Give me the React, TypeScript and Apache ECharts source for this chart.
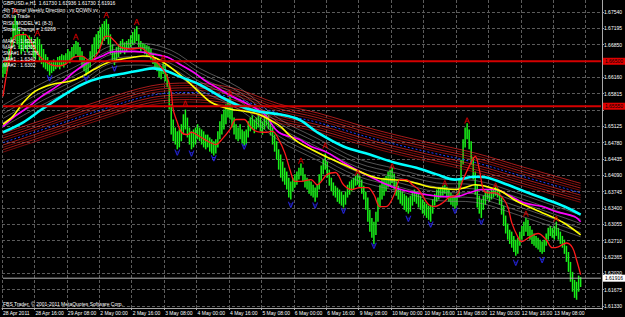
import React, { useEffect, useRef } from "react";
import * as echarts from "echarts";

// ---------- axis scaffolding ----------
const BAR_SLOTS = 296;
const xTickLabels = [
  "28 Apr 2011", "28 Apr 16:00", "29 Apr 08:00", "2 May 00:00", "2 May 16:00", "3 May 08:00",
  "4 May 00:00", "4 May 16:00", "5 May 08:00", "6 May 00:00", "6 May 16:00", "9 May 08:00",
  "10 May 00:00", "10 May 16:00", "11 May 08:00", "12 May 00:00", "12 May 16:00", "13 May 08:00",
];
const yTickValues = [1.6133, 1.61675, 1.6202, 1.62365, 1.6271, 1.63055, 1.634, 1.63745, 1.6409, 1.64435, 1.6478, 1.65125, 1.6547, 1.65815, 1.6616, 1.66505, 1.6685, 1.67195, 1.6754];
const yLabelValues = [1.6133, 1.61675, 1.6202, 1.62365, 1.6271, 1.63055, 1.634, 1.63745, 1.6409, 1.64435, 1.6478, 1.65125, 1.65815, 1.6616, 1.6685, 1.67195, 1.6754];
const Y_MIN = 1.61286;
const Y_MAX = 1.67795;

// ---------- price bars (H1) ----------
const lows = [
  1.6616,1.6623,1.6629,1.6642,1.6654,1.6680,1.6697,1.6686,1.6676,1.6665,
  1.6671,1.6676,1.6669,1.6680,1.6676,1.6659,1.6654,1.6665,1.6650,1.6644,
  1.6637,1.6633,1.6629,1.6620,1.6625,1.6629,1.6633,1.6637,1.6633,1.6642,
  1.6637,1.6644,1.6650,1.6646,1.6654,1.6659,1.6665,1.6659,1.6650,1.6637,
  1.6629,1.6620,1.6625,1.6637,1.6650,1.6659,1.6665,1.6676,1.6680,1.6686,
  1.6693,1.6697,1.6686,1.6665,1.6650,1.6642,1.6650,1.6659,1.6665,1.6671,
  1.6665,1.6671,1.6676,1.6680,1.6684,1.6688,1.6693,1.6680,1.6671,1.6676,
  1.6665,1.6659,1.6663,1.6654,1.6644,1.6633,1.6629,1.6616,1.6612,1.6623,
  1.6608,1.6595,1.6548,1.6495,1.6481,1.6474,1.6464,1.6468,1.6481,1.6495,
  1.6506,1.6489,1.6474,1.6464,1.6468,1.6474,1.6485,1.6481,1.6474,1.6468,
  1.6464,1.6468,1.6459,1.6455,1.6451,1.6455,1.6468,1.6485,1.6495,1.6506,
  1.6517,1.6531,1.6527,1.6510,1.6495,1.6485,1.6481,1.6485,1.6476,1.6472,
  1.6474,1.6489,1.6502,1.6506,1.6498,1.6506,1.6510,1.6502,1.6495,1.6506,
  1.6514,1.6506,1.6493,1.6474,1.6459,1.6442,1.6421,1.6404,1.6396,1.6389,
  1.6379,1.6362,1.6358,1.6375,1.6383,1.6389,1.6400,1.6408,1.6396,1.6383,
  1.6379,1.6370,1.6366,1.6362,1.6353,1.6362,1.6379,1.6396,1.6411,1.6421,
  1.6404,1.6387,1.6375,1.6366,1.6362,1.6353,1.6349,1.6345,1.6341,1.6347,
  1.6362,1.6368,1.6375,1.6379,1.6387,1.6389,1.6383,1.6370,1.6358,1.6336,
  1.6311,1.6290,1.6277,1.6264,1.6283,1.6311,1.6341,1.6358,1.6366,1.6375,
  1.6383,1.6387,1.6392,1.6379,1.6366,1.6358,1.6349,1.6345,1.6336,1.6332,
  1.6328,1.6332,1.6345,1.6353,1.6349,1.6341,1.6336,1.6328,1.6324,1.6319,
  1.6315,1.6311,1.6328,1.6345,1.6353,1.6358,1.6362,1.6366,1.6370,1.6362,
  1.6353,1.6347,1.6343,1.6339,1.6345,1.6362,1.6389,1.6432,1.6468,1.6485,
  1.6464,1.6432,1.6400,1.6368,1.6341,1.6328,1.6319,1.6336,1.6347,1.6358,
  1.6353,1.6358,1.6362,1.6366,1.6362,1.6347,1.6326,1.6302,1.6286,1.6273,
  1.6264,1.6256,1.6247,1.6239,1.6243,1.6260,1.6273,1.6281,1.6290,1.6281,
  1.6273,1.6264,1.6260,1.6256,1.6252,1.6247,1.6243,1.6247,1.6260,1.6273,
  1.6281,1.6277,1.6273,1.6281,1.6273,1.6264,1.6256,1.6243,1.6226,1.6205,
  1.6184,1.6163,1.6150,1.6146,1.6163,1.6173,
];
const highs = [
  1.6646,1.6650,1.6659,1.6676,1.6701,1.6729,1.6746,1.6735,1.6718,1.6707,
  1.6712,1.6705,1.6697,1.6705,1.6701,1.6693,1.6697,1.6701,1.6697,1.6686,
  1.6676,1.6665,1.6659,1.6650,1.6648,1.6654,1.6650,1.6659,1.6661,1.6665,
  1.6663,1.6667,1.6676,1.6671,1.6680,1.6686,1.6693,1.6690,1.6680,1.6671,
  1.6659,1.6650,1.6654,1.6671,1.6686,1.6701,1.6707,1.6714,1.6722,1.6729,
  1.6735,1.6739,1.6729,1.6707,1.6686,1.6671,1.6680,1.6686,1.6693,1.6697,
  1.6690,1.6693,1.6697,1.6705,1.6712,1.6718,1.6724,1.6707,1.6693,1.6688,
  1.6686,1.6684,1.6682,1.6676,1.6667,1.6659,1.6650,1.6644,1.6637,1.6646,
  1.6642,1.6623,1.6601,1.6559,1.6527,1.6510,1.6502,1.6506,1.6517,1.6538,
  1.6548,1.6531,1.6510,1.6502,1.6506,1.6510,1.6517,1.6510,1.6506,1.6502,
  1.6495,1.6495,1.6489,1.6485,1.6481,1.6485,1.6502,1.6523,1.6538,1.6548,
  1.6559,1.6570,1.6574,1.6553,1.6531,1.6517,1.6510,1.6517,1.6506,1.6502,
  1.6506,1.6523,1.6531,1.6536,1.6527,1.6531,1.6538,1.6531,1.6523,1.6536,
  1.6544,1.6536,1.6523,1.6510,1.6495,1.6481,1.6464,1.6453,1.6438,1.6425,
  1.6417,1.6404,1.6396,1.6404,1.6411,1.6417,1.6425,1.6434,1.6425,1.6411,
  1.6404,1.6400,1.6396,1.6389,1.6383,1.6389,1.6411,1.6430,1.6442,1.6455,
  1.6438,1.6421,1.6404,1.6394,1.6387,1.6383,1.6379,1.6375,1.6368,1.6375,
  1.6389,1.6396,1.6400,1.6404,1.6408,1.6413,1.6408,1.6400,1.6387,1.6375,
  1.6362,1.6336,1.6319,1.6311,1.6332,1.6362,1.6389,1.6400,1.6404,1.6408,
  1.6417,1.6421,1.6425,1.6413,1.6396,1.6387,1.6379,1.6375,1.6370,1.6366,
  1.6362,1.6366,1.6375,1.6379,1.6375,1.6370,1.6366,1.6358,1.6353,1.6349,
  1.6345,1.6345,1.6358,1.6370,1.6379,1.6383,1.6383,1.6387,1.6389,1.6385,
  1.6379,1.6372,1.6368,1.6366,1.6370,1.6400,1.6442,1.6485,1.6510,1.6519,
  1.6506,1.6481,1.6447,1.6417,1.6389,1.6366,1.6358,1.6366,1.6375,1.6379,
  1.6375,1.6379,1.6383,1.6385,1.6383,1.6375,1.6362,1.6345,1.6324,1.6307,
  1.6294,1.6290,1.6281,1.6273,1.6277,1.6290,1.6302,1.6311,1.6319,1.6315,
  1.6302,1.6294,1.6286,1.6281,1.6277,1.6273,1.6269,1.6273,1.6286,1.6298,
  1.6302,1.6298,1.6302,1.6311,1.6298,1.6290,1.6281,1.6273,1.6260,1.6247,
  1.6226,1.6205,1.6188,1.6184,1.6197,1.6194,
];

// ---------- indicator lines: [bar index, price] ----------
const redMA: [number, number][] = [
  [0,1.6576],[4,1.6676],[6,1.6703],[11,1.6707],[13,1.6697],[18,1.6661],[23,1.6644],[27,1.6640],
  [31,1.6644],[35,1.6659],[39,1.6661],[43,1.6650],[47,1.6669],[50,1.6701],[52,1.6703],[55,1.6693],
  [58,1.6680],[63,1.6676],[68,1.6678],[72,1.6665],[76,1.6648],[79,1.6633],[81,1.6618],[83,1.6584],
  [84,1.6548],[86,1.6521],[88,1.6500],[91,1.6495],[93,1.6500],[97,1.6491],[101,1.6481],[105,1.6474],
  [108,1.6485],[112,1.6506],[115,1.6527],[119,1.6527],[122,1.6512],[125,1.6502],[130,1.6500],[133,1.6502],
  [136,1.6485],[139,1.6457],[142,1.6415],[144,1.6396],[147,1.6396],[152,1.6400],[155,1.6389],[160,1.6411],
  [164,1.6415],[168,1.6389],[172,1.6379],[176,1.6383],[180,1.6383],[183,1.6368],[186,1.6343],[189,1.6343],
  [193,1.6368],[196,1.6400],[199,1.6400],[202,1.6389],[205,1.6379],[210,1.6347],[213,1.6343],[217,1.6351],
  [220,1.6362],[224,1.6368],[227,1.6400],[230,1.6428],[233,1.6449],[235,1.6421],[237,1.6379],[239,1.6372],
  [243,1.6372],[246,1.6364],[249,1.6343],[251,1.6309],[254,1.6279],[256,1.6269],[260,1.6279],[264,1.6286],
  [268,1.6273],[271,1.6256],[274,1.6258],[278,1.6266],[281,1.6256],[283,1.6230],[285,1.6199],
];
const yellowMA: [number, number][] = [
  [0,1.6517],[5,1.6534],[10,1.6563],[16,1.6587],[24,1.6601],[33,1.6608],[39,1.6618],[45,1.6633],
  [52,1.6648],[58,1.6654],[65,1.6659],[69,1.6661],[74,1.6659],[79,1.6648],[84,1.6633],[91,1.6608],
  [97,1.6584],[102,1.6565],[107,1.6555],[113,1.6548],[120,1.6544],[126,1.6538],[133,1.6523],[137,1.6512],
  [141,1.6495],[146,1.6478],[152,1.6464],[160,1.6447],[168,1.6432],[176,1.6417],[184,1.6404],[191,1.6400],
  [198,1.6398],[204,1.6392],[210,1.6385],[217,1.6381],[223,1.6379],[228,1.6383],[233,1.6389],[239,1.6385],
  [246,1.6375],[252,1.6358],[259,1.6343],[266,1.6330],[272,1.6319],[278,1.6305],[285,1.6283],
];
const magentaMA: [number, number][] = [
  [0,1.6512],[6,1.6534],[13,1.6555],[19,1.6576],[28,1.6601],[35,1.6627],[42,1.6648],[49,1.6661],
  [53,1.6669],[58,1.6671],[65,1.6671],[69,1.6669],[74,1.6665],[81,1.6659],[87,1.6644],[94,1.6627],
  [100,1.6608],[107,1.6591],[113,1.6576],[121,1.6559],[129,1.6538],[136,1.6500],[146,1.6485],[152,1.6470],
  [160,1.6457],[168,1.6436],[176,1.6417],[184,1.6400],[193,1.6383],[200,1.6375],[209,1.6368],[217,1.6364],
  [223,1.6364],[230,1.6372],[236,1.6379],[243,1.6379],[249,1.6368],[257,1.6351],[266,1.6343],[273,1.6332],
  [282,1.6322],[285,1.6311],
];
const cyanMA: [number, number][] = [
  [0,1.6500],[10,1.6521],[19,1.6548],[29,1.6576],[39,1.6601],[49,1.6616],[58,1.6623],[68,1.6631],
  [74,1.6635],[81,1.6629],[87,1.6618],[97,1.6601],[107,1.6576],[117,1.6555],[126,1.6544],[136,1.6538],
  [146,1.6527],[155,1.6500],[168,1.6470],[181,1.6453],[193,1.6436],[204,1.6425],[214,1.6411],[223,1.6400],
  [233,1.6406],[239,1.6404],[249,1.6389],[259,1.6372],[268,1.6358],[277,1.6343],[285,1.6326],
];
const grayCenter: [number, number][] = [
  [0,1.6534],[19,1.6580],[39,1.6623],[53,1.6659],[68,1.6665],[83,1.6650],[97,1.6612],[117,1.6570],
  [136,1.6506],[155,1.6464],[175,1.6421],[194,1.6400],[214,1.6379],[233,1.6375],[252,1.6351],[285,1.6302],
];
const grayOffsets = [-0.0023, -0.0014, -0.0005, 0.0005, 0.0014, 0.0023];
const blueCenter: [number, number][] = [
  [0,1.6478],[24,1.6512],[49,1.6548],[73,1.6578],[92,1.6584],[113,1.6574],[136,1.6540],[155,1.6521],
  [184,1.6485],[209,1.6459],[233,1.6436],[257,1.6406],[285,1.6372],
];
const redOffsets = [-0.0020, -0.0015, -0.0010, -0.0005, 0.0005, 0.0010, 0.0015, 0.0020];

// ---------- signals ----------
const upSignals: [number, number][] = [
  [6,1.6756],[17,1.6710],[36,1.6702],[51,1.6748],[66,1.6733],[79,1.6657],[90,1.6561],[112,1.6582],
  [147,1.6440],[159,1.6472],[175,1.6415],[192,1.6428],[218,1.6392],[229,1.6525],[243,1.6387],[258,1.6328],[273,1.6317],
];
const downSignals: [number, number][] = [
  [23,1.6614],[41,1.6614],[55,1.6635],[86,1.6457],[93,1.6455],[104,1.6445],[119,1.6470],[142,1.6347],
  [154,1.6345],[168,1.6334],[183,1.6260],[200,1.6317],[211,1.6305],[223,1.6334],[236,1.6311],[253,1.6224],[266,1.6230],
];

// ---------- horizontal levels ----------
const levelUpper = 1.6650;
const levelLower = 1.6555;
const lastPrice = 1.61916;

const infoLines = [
  "GBPUSD.e,H1  1.61730 1.61936 1.61730 1.61916",
  "4th Tunnel Weekly Direction : vv DOWN vv",
  "OK to Trade",
  "RISK MODEL #1 (8-3)",
  "Slope Change = 1.6269",
];
const maLines = ["MA#2 : 1.6212", "MA#1 : 1.6305", "SMA#1 : 1.6276", "MA#1 : 1.6340", "MA#2 : 1.6302"];
const copyright = "FBS Trader, \u00a9 2001-2011 MetaQuotes Software Corp.";

const FONT = "'Liberation Sans', Arial, sans-serif";
const ARROW = "path://M0 10 L4 0 L6 0 L10 10 L8 10 L6.8 7 L3.2 7 L2 10 Z M3.8 5.5 L6.2 5.5 L5 2.5 Z";

function shift(pts: [number, number][], d: number): [number, number][] {
  return pts.map(([i, p]) => [i, p + d]);
}

function lineSeries(data: [number, number][], color: string, width: number, z: number, extra: any = {}) {
  return {
    type: "line",
    data,
    showSymbol: false,
    symbol: "none",
    smooth: 0.35,
    silent: true,
    z,
    lineStyle: { color, width, ...extra },
  };
}

function levelSeries(v: number, color: string, width: number, labelBg: string) {
  return {
    type: "line",
    data: [[0, v], [BAR_SLOTS - 1, v]],
    showSymbol: false,
    symbol: "none",
    silent: true,
    z: 7,
    lineStyle: { color, width, type: "solid" },
    endLabel: {
      show: true,
      formatter: v.toFixed(5),
      backgroundColor: labelBg,
      color: "#000",
      fontSize: 5,
      padding: [1, 2],
      distance: 2,
      fontFamily: FONT,
    },
  };
}

export default function App() {
  const ref = useRef<HTMLDivElement>(null);
  useEffect(() => {
    document.body.style.margin = "0";
    if (!ref.current) return;
    const chart = echarts.init(ref.current, null, { renderer: "svg" });
    const categories = Array.from({ length: BAR_SLOTS }, (_, i) => String(i));
    const barData = lows.map((l, i) => [i, l, highs[i]]);
    const every16 = (i: number) => i % 16 === 0;

    const series: any[] = [];
    series.push({
      type: "custom",
      data: barData,
      z: 2,
      silent: true,
      renderItem: (_p: any, api: any) => {
        const a = api.coord([api.value(0), api.value(1)]);
        const b = api.coord([api.value(0), api.value(2)]);
        return {
          type: "line",
          shape: { x1: a[0], y1: a[1], x2: b[0], y2: b[1] },
          style: { stroke: "#19f019", lineWidth: 1.5 },
        };
      },
    });
    redOffsets.forEach((d, k) => {
      series.push(lineSeries(shift(blueCenter, d), k % 2 === 0 ? "#b01010" : "#f02828", 0.7, 3));
    });
    series.push(lineSeries(blueCenter, "#2a3cff", 1, 3, { type: [2, 2] }));
    grayOffsets.forEach((d) => {
      series.push(lineSeries(shift(grayCenter, d), "#8c8c8c", 0.6, 3));
    });
    series.push(lineSeries(magentaMA, "#ff00ff", 1.6, 4));
    series.push(lineSeries(yellowMA, "#ffff00", 1.6, 4));
    series.push(lineSeries(redMA, "#ff1a1a", 1.3, 5));
    series.push(lineSeries(cyanMA, "#00ffff", 2.6, 4));
    series.push(levelSeries(levelUpper, "#d40000", 2, "#e00000"));
    series.push(levelSeries(levelLower, "#d40000", 2, "#e00000"));
    series.push(levelSeries(lastPrice, "#b4b4b4", 1, "#ffffff"));
    series.push({
      type: "scatter",
      data: upSignals,
      symbol: ARROW,
      symbolSize: [6, 6],
      silent: true,
      z: 6,
      itemStyle: { color: "#e00000" },
    });
    series.push({
      type: "scatter",
      data: downSignals,
      symbol: ARROW,
      symbolRotate: 180,
      symbolSize: [6, 6],
      silent: true,
      z: 6,
      itemStyle: { color: "#2a2aff" },
    });

    const textEls: any[] = [];
    infoLines.forEach((t, k) => {
      textEls.push({
        type: "text", left: 3, top: 0.5 + k * 6.5, silent: true, z: 10,
        style: { text: t, fill: "#ffffff", fontSize: 5, fontFamily: FONT },
      });
    });
    maLines.forEach((t, k) => {
      textEls.push({
        type: "text", left: 3, top: 38.5 + k * 6.1, silent: true, z: 10,
        style: { text: t, fill: "#ffffff", fontSize: 5, fontFamily: FONT },
      });
    });
    textEls.push({
      type: "text", left: 3, top: 301.5, silent: true, z: 10,
      style: { text: copyright, fill: "#ffffff", fontSize: 5, fontFamily: FONT },
    });

    chart.setOption({
      animation: false,
      backgroundColor: "#000000",
      textStyle: { fontFamily: FONT },
      grid: { left: 0, right: 19, top: 0, bottom: 9, containLabel: false },
      xAxis: {
        type: "category",
        data: categories,
        boundaryGap: true,
        axisLine: { show: true, lineStyle: { color: "#a8a8a8", width: 1 } },
        axisTick: { show: true, interval: every16, length: 2, lineStyle: { color: "#a8a8a8" } },
        axisLabel: {
          show: true,
          interval: every16,
          formatter: (v: string) => xTickLabels[Number(v) / 16] ?? "",
          color: "#ffffff",
          fontSize: 5,
          align: "left",
          margin: 2,
          fontFamily: FONT,
        },
        splitLine: { show: true, interval: every16, lineStyle: { color: "#5c5c5c", type: [3, 2], width: 1 } },
      },
      yAxis: {
        type: "value",
        position: "right",
        min: Y_MIN,
        max: Y_MAX,
        axisLine: { show: true, lineStyle: { color: "#a8a8a8", width: 1 } },
        axisTick: { show: true, length: 2, customValues: yTickValues, lineStyle: { color: "#a8a8a8" } },
        axisLabel: {
          customValues: yLabelValues,
          formatter: (v: number) => v.toFixed(5),
          color: "#ffffff",
          fontSize: 5,
          margin: 2,
          fontFamily: FONT,
        },
        splitLine: { show: true, lineStyle: { color: "#5c5c5c", type: [3, 2], width: 1 } },
      },
      graphic: textEls,
      series,
    });
    return () => chart.dispose();
  }, []);
  return <div ref={ref} style={{ width: 625, height: 317 }} />;
}
